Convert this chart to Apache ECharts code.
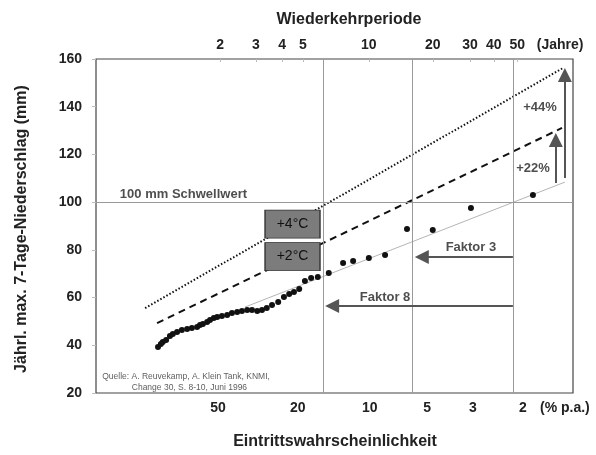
<!DOCTYPE html>
<html><head><meta charset="utf-8">
<script src="https://cdn.jsdelivr.net/npm/echarts@6/dist/echarts.min.js"></script>
<style>html,body{margin:0;padding:0;background:#fff}#c{width:596px;height:455px}</style>
</head><body><div id="c"></div>
<script>
// x: plot position along the (Gumbel-type) probability axis, 0 = left border, 100 = right border
const topTickPos = [26.0, 33.5, 39.0, 43.4, 57.2, 70.6, 78.4, 83.4, 88.3, 97.3];
const topTickLabels = ['2', '3', '4', '5', '10', '20', '30', '40', '50', '(Jahre)'];
const bottomTickPos = [25.6, 42.3, 57.4, 69.4, 79.0, 89.5, 98.3];
const bottomTickLabels = ['50', '20', '10', '5', '3', '2', '(% p.a.)'];
const gridX = [47.6, 66.2, 87.4];
const thresholdValue = 100;

// observed annual maxima (7-day precipitation, mm)
const obsX = [13.0,13.6,14.0,14.7,15.5,16.1,17.0,18.0,19.1,20.1,21.2,21.8,22.4,23.3,23.9,24.7,25.4,26.4,27.5,28.5,29.6,30.6,31.7,32.7,33.8,34.8,35.8,36.9,38.2,39.4,40.5,41.5,42.6,43.8,45.1,46.5,48.8,51.8,53.9,57.2,60.6,65.2,70.6,78.6,91.6];
const obsY = [39.3,40.5,41.4,42.2,43.9,44.7,45.6,46.4,46.8,47.2,47.7,48.5,48.9,49.8,50.6,51.4,51.9,52.3,52.7,53.5,54.0,54.4,54.8,54.8,54.4,54.8,55.6,56.9,58.1,60.2,61.5,62.3,63.6,66.9,68.2,68.6,70.3,74.5,75.3,76.6,77.8,88.7,88.3,97.5,103.0];

// fitted lines
const fitLine = [[31.2, 56.0], [98.3, 108.4]];
const plus2Line = [[12.8, 49.3], [97.7, 131.1]];
const plus4Line = [[10.3, 55.6], [97.9, 156.2]];

// arrows [from, to]
const arrowFaktor3 = [[87.4, 77.0], [68.3, 77.0]];
const arrowFaktor8 = [[87.4, 56.5], [49.5, 56.5]];
const arrowPlus22 = [[96.4, 108.0], [96.4, 126.0]];
const arrowPlus44 = [[98.3, 110.1], [98.3, 153.3]];

// labelled boxes
const boxNames = ['+4°C', '+2°C'];
const boxX = [41.2, 41.2];
const boxY = [90.8, 77.2];

// text annotations
const noteTexts = ['Faktor 3', 'Faktor 8', '+44%', '+22%'];
const noteX = [78.6, 60.6, 93.1, 91.6];
const noteY = [81.2, 60.2, 139.9, 114.3];
const thresholdText = '100 mm Schwellwert';
const thresholdTextPos = [5.0, 103.4];
const sourceLines = ['Quelle: A. Reuvekamp, A. Klein Tank, KNMI,', 'Change 30, S. 8-10, Juni 1996'];
const sourceX = [1.3, 7.5];
const sourceY = [26.7, 22.1];

const FONT = '"Liberation Sans", Arial, sans-serif';
const TXT = '#222';

function lookup(pos, labels) {
  return function (v) {
    for (let i = 0; i < pos.length; i++) if (Math.abs(pos[i] - v) < 1e-6) return labels[i];
    return '';
  };
}
function arrowItem(a) { return [{ coord: a[0] }, { coord: a[1] }]; }

const chart = echarts.init(document.getElementById('c'), null, { renderer: 'canvas' });
chart.setOption({
  animation: false,
  backgroundColor: '#fff',
  grid: { left: 96, right: 23, top: 59, bottom: 62, show: true, borderColor: '#444', borderWidth: 1.2, backgroundColor: 'transparent' },
  xAxis: [
    {
      type: 'value', position: 'bottom', min: 0, max: 100,
      axisLine: { show: false }, splitLine: { show: false },
      axisTick: { show: false },
      axisLabel: {
        customValues: bottomTickPos, formatter: lookup(bottomTickPos, bottomTickLabels),
        margin: 8, fontFamily: FONT, fontWeight: 'bold', fontSize: 14, color: TXT
      }
    },
    {
      type: 'value', position: 'top', min: 0, max: 100,
      axisLine: { show: false }, splitLine: { show: false },
      axisTick: { show: true, customValues: topTickPos.slice(0, 9), length: 3, inside: true, lineStyle: { color: '#bbb' } },
      axisLabel: {
        customValues: topTickPos, formatter: lookup(topTickPos, topTickLabels),
        margin: 7, fontFamily: FONT, fontWeight: 'bold', fontSize: 14, color: TXT
      }
    }
  ],
  yAxis: {
    type: 'value', min: 20, max: 160, interval: 20,
    axisLine: { show: false }, splitLine: { show: false },
    axisTick: { show: true, length: 4, lineStyle: { color: '#bbb' } },
    axisLabel: { margin: 14, fontFamily: FONT, fontWeight: 'bold', fontSize: 14, color: TXT }
  },
  graphic: [
    { type: 'text', x: 349, y: 20, style: { text: 'Wiederkehrperiode', align: 'center', verticalAlign: 'middle', font: 'bold 16px ' + FONT, fill: TXT } },
    { type: 'text', x: 335, y: 442, style: { text: 'Eintrittswahrscheinlichkeit', align: 'center', verticalAlign: 'middle', font: 'bold 16px ' + FONT, fill: TXT } },
    { type: 'text', x: 22, y: 229, rotation: Math.PI / 2, style: { text: 'Jährl. max. 7-Tage-Niederschlag (mm)', align: 'center', verticalAlign: 'middle', font: 'bold 16px ' + FONT, fill: TXT } }
  ],
  series: [
    {
      type: 'line', data: [], silent: true,
      markLine: {
        silent: true, symbol: 'none', label: { show: false },
        lineStyle: { color: '#999', width: 1, type: 'solid' },
        data: gridX.map(v => ({ xAxis: v })).concat([{ yAxis: thresholdValue }])
      }
    },
    { type: 'line', data: fitLine, symbol: 'none', lineStyle: { color: '#b5b5b5', width: 1 }, silent: true },
    { type: 'line', data: plus2Line, symbol: 'none', lineStyle: { color: '#111', width: 2, type: [7, 5] }, silent: true },
    { type: 'line', data: plus4Line, symbol: 'none', lineStyle: { color: '#111', width: 2, type: [1.5, 2] }, silent: true },
    {
      type: 'line', data: [], silent: true,
      markLine: {
        silent: true, symbol: ['none', 'triangle'], symbolSize: 14, label: { show: false },
        lineStyle: { color: '#555', width: 2, type: 'solid' },
        itemStyle: { color: '#111' },
        data: [arrowItem(arrowFaktor3), arrowItem(arrowFaktor8), arrowItem(arrowPlus22), arrowItem(arrowPlus44)]
      }
    },
    {
      type: 'scatter', data: obsX.map((x, i) => [x, obsY[i]]), symbolSize: 6,
      itemStyle: { color: '#111', opacity: 1 }, z: 5
    },
    {
      type: 'scatter', z: 6, symbol: 'rect', symbolSize: [55, 28],
      itemStyle: { color: '#7c7c7c', borderColor: '#333', borderWidth: 1, opacity: 1 },
      label: { show: true, position: 'inside', formatter: p => p.name, fontFamily: FONT, fontSize: 14, color: '#111' },
      data: boxNames.map((n, i) => ({ name: n, value: [boxX[i], boxY[i]] }))
    },
    {
      type: 'scatter', z: 6, symbolSize: 0,
      label: { show: true, position: 'inside', formatter: p => p.name, fontFamily: FONT, fontWeight: 'bold', fontSize: 13, color: TXT },
      data: noteTexts.map((n, i) => ({ name: n, value: [noteX[i], noteY[i]] }))
    },
    {
      type: 'scatter', z: 6, symbolSize: 0,
      label: { show: true, position: 'right', distance: 0, formatter: p => p.name, fontFamily: FONT, fontWeight: 'bold', fontSize: 13, color: TXT },
      data: [{ name: thresholdText, value: thresholdTextPos }]
    },
    {
      type: 'scatter', z: 6, symbolSize: 0,
      label: { show: true, position: 'right', distance: 0, formatter: p => p.name, fontFamily: FONT, fontSize: 8.5, color: '#333' },
      data: sourceLines.map((n, i) => ({ name: n, value: [sourceX[i], sourceY[i]] }))
    }
  ]
});
</script>
</body></html>
